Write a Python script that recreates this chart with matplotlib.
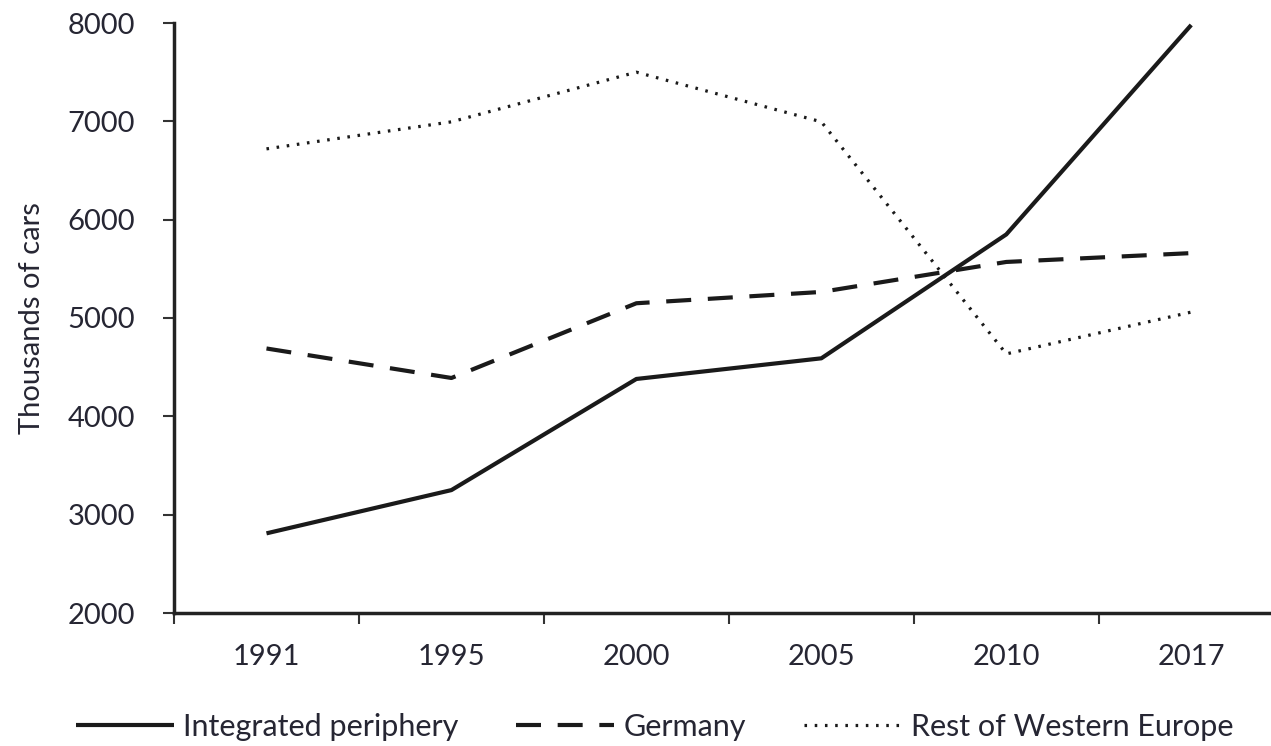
import matplotlib
matplotlib.use("Agg")
import matplotlib.pyplot as plt
import numpy as np

years = ["1991", "1995", "2000", "2005", "2010", "2017"]
integrated = [2810, 3250, 4380, 4590, 5850, 7980]
germany = [4690, 4390, 5150, 5265, 5570, 5660]
rest_we = [6720, 6995, 7500, 6995, 4635, 5060]
yticks = [2000, 3000, 4000, 5000, 6000, 7000, 8000]

plt.rcParams['font.family'] = ['Lato', 'DejaVu Sans']
txt = '#262633'
fs = 21

fig = plt.figure(figsize=(12.71, 7.46), dpi=100)
ax = fig.add_axes([174/1271, 133/746, 1 - 174/1271 + 0.01, (613-23)/746])
x = np.arange(len(years))
l1, = ax.plot(x, integrated, color='#1a1a1a', lw=3.0, solid_capstyle='butt', label='Integrated periphery')
l2, = ax.plot(x, germany, color='#1a1a1a', lw=3.0, dashes=(6, 4), label='Germany')
l3, = ax.plot(x, rest_we, color='#1a1a1a', lw=2.3, dashes=(0.8, 2.4), label='Rest of Western Europe')

ax.set_xlim(-0.5, 5.5)
ax.set_ylim(2000, 8000)
ax.set_yticks(yticks)
ax.set_yticklabels([str(v) for v in yticks])
ax.set_xticks(x)
ax.set_xticklabels(years)
ax.set_xticks(np.arange(-0.5, 6.0, 1.0), minor=True)
ax.tick_params(axis='x', which='major', length=0, pad=22, labelsize=fs, labelcolor=txt)
ax.tick_params(axis='x', which='minor', length=8, width=1.5, direction='out', color='#333333')
ax.tick_params(axis='y', length=8, width=1.5, direction='out', labelsize=fs, labelcolor=txt, pad=20, color='#333333')
for s in ['top', 'right']:
    ax.spines[s].set_visible(False)
for s in ['left', 'bottom']:
    ax.spines[s].set_linewidth(2.5)
    ax.spines[s].set_color('#222222')
ax.set_ylabel('Thousands of cars', fontsize=fs, color=txt, labelpad=16)

fig.legend(handles=[l1, l2, l3], loc='lower center', bbox_to_anchor=(0.515, -0.03), ncol=3,
           frameon=False, fontsize=22, handlelength=3.2, handletextpad=0.3, columnspacing=1.9,
           labelcolor=txt)
fig.savefig('out.png', dpi=100)
